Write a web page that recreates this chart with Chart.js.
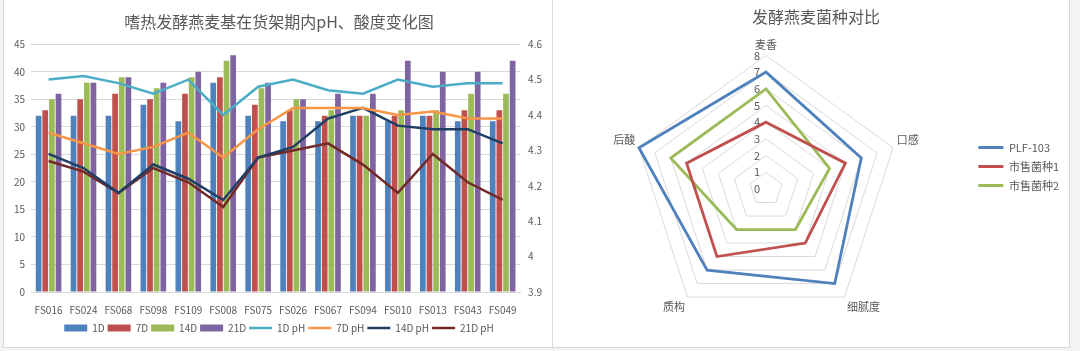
<!DOCTYPE html>
<html>
<head>
<meta charset="utf-8">
<script src="https://cdn.jsdelivr.net/npm/chart.js@4"></script>
<style>
    body { margin: 0; width: 1080px; height: 351px; overflow: hidden; position: relative; background: #f3f3f3; }
    .panel { position: absolute; top: -1px; height: 349px; background: #fff; border: 1px solid #d9d9d9; box-sizing: border-box; }
    #panel-izq { left: 3px; width: 550px; }
    #panel-der { left: 552px; width: 518px; }
    canvas { position: absolute; left: 0; top: 0; }
</style>
</head>
<body>
<div class="panel" id="panel-izq"><canvas id="chart-acidez" width="548" height="347"></canvas></div>
<div class="panel" id="panel-der"><canvas id="chart-radar" width="516" height="347"></canvas></div>
<script>
var categorias = ['FS016', 'FS024', 'FS068', 'FS098', 'FS109', 'FS008', 'FS075', 'FS026', 'FS067', 'FS094', 'FS010', 'FS013', 'FS043', 'FS049'];

// acidez (barras, eje izquierdo)
var acidez_1d = [32, 32, 32, 34, 31, 38, 32, 31, 31, 32, 31, 32, 31, 31];
var acidez_7d = [33, 35, 36, 35, 36, 39, 34, 33, 32, 32, 32, 32, 33, 33];
var acidez_14d = [35, 38, 39, 37, 39, 42, 37, 35, 33, 32, 33, 33, 36, 36];
var acidez_21d = [36, 38, 39, 38, 40, 43, 38, 35, 36, 36, 42, 40, 40, 42];

// pH (lineas, eje derecho)
var ph_1d = [4.50, 4.51, 4.49, 4.46, 4.50, 4.40, 4.48, 4.50, 4.47, 4.46, 4.50, 4.48, 4.49, 4.49];
var ph_7d = [4.35, 4.32, 4.29, 4.31, 4.35, 4.28, 4.36, 4.42, 4.42, 4.42, 4.40, 4.41, 4.39, 4.39];
var ph_14d = [4.29, 4.25, 4.18, 4.26, 4.22, 4.16, 4.28, 4.31, 4.39, 4.42, 4.37, 4.36, 4.36, 4.32];
var ph_21d = [4.27, 4.24, 4.18, 4.25, 4.21, 4.14, 4.28, 4.30, 4.32, 4.26, 4.18, 4.29, 4.21, 4.16];

var atributos = ['麦香', '口感', '细腻度', '质构', '后酸'];
var plf_103 = [7, 6, 7, 6, 8];
var comercial_1 = [4, 5, 4, 5, 5];
var comercial_2 = [6, 4, 3, 3, 6];
var radar_ticks = [0, 1, 2, 3, 4, 5, 6, 7, 8];

var fuente = '"Noto Sans CJK SC", "Noto Sans", sans-serif';
var gris = '#595959';
Chart.defaults.font.family = fuente;
Chart.defaults.color = gris;

bar_dataset = function (label, data, color) {
    return {
        type: 'bar',
        label: label,
        data: data,
        backgroundColor: color,
        yAxisID: 'y',
        order: 1,
        categoryPercentage: 0.76,
        barPercentage: 0.86
    }
}

line_dataset = function (label, data, color) {
    return {
        type: 'line',
        label: label,
        data: data,
        borderColor: color,
        backgroundColor: color,
        borderWidth: 2.5,
        pointRadius: 0,
        tension: 0,
        yAxisID: 'y1',
        order: 0
    }
}

new Chart(document.getElementById('chart-acidez'), {
    type: 'bar',
    data: {
        labels: categorias,
        datasets: [
            bar_dataset('1D', acidez_1d, '#4F81BD'),
            bar_dataset('7D', acidez_7d, '#C0504D'),
            bar_dataset('14D', acidez_14d, '#9BBB59'),
            bar_dataset('21D', acidez_21d, '#8064A2'),
            line_dataset('1D pH', ph_1d, '#4BACC6'),
            line_dataset('7D pH', ph_7d, '#F79646'),
            line_dataset('14D pH', ph_14d, '#1F3F66'),
            line_dataset('21D pH', ph_21d, '#722A28')
        ]
    },
    options: {
        responsive: false,
        animation: false,
        layout: { padding: { left: 4, right: 2, top: 0, bottom: 4 } },
        scales: {
            x: {
                grid: { display: false },
                border: { display: true, color: '#d9d9d9' },
                ticks: { font: { size: 10 }, maxRotation: 0, autoSkip: false, padding: 4 }
            },
            y: {
                position: 'left',
                min: 0,
                max: 45,
                ticks: { stepSize: 5, font: { size: 10 }, padding: 6 },
                grid: { color: '#d9d9d9', drawTicks: false },
                border: { display: false }
            },
            y1: {
                position: 'right',
                min: 3.9,
                max: 4.6,
                ticks: {
                    stepSize: 0.1,
                    font: { size: 10 },
                    padding: 8,
                    callback: function (value) {
                        return String(Number(value.toFixed(1)));
                    }
                },
                grid: { drawOnChartArea: false, drawTicks: false },
                border: { display: false }
            }
        },
        plugins: {
            title: {
                display: true,
                text: '嗜热发酵燕麦基在货架期内pH、酸度变化图',
                font: { size: 16, weight: 'normal' },
                color: gris,
                padding: { top: 12, bottom: 13 }
            },
            legend: {
                position: 'bottom',
                labels: {
                    usePointStyle: true,
                    pointStyleWidth: 23,
                    boxHeight: 7,
                    padding: 3,
                    font: { size: 10 },
                    sort: function (a, b) {
                        return a.datasetIndex - b.datasetIndex;
                    },
                    generateLabels: function (chart) {
                        var items = Chart.defaults.plugins.legend.labels.generateLabels(chart);
                        items.forEach(function (item) {
                            var ds = chart.data.datasets[item.datasetIndex];
                            if (ds.type === 'line') {
                                item.pointStyle = 'line';
                                item.strokeStyle = ds.borderColor;
                                item.lineWidth = 2.5;
                            } else {
                                item.pointStyle = 'rect';
                                item.lineWidth = 0;
                            }
                        });
                        return items;
                    }
                }
            },
            tooltip: { enabled: false }
        }
    }
});

// etiquetas del eje radial a la izquierda del eje vertical, incluido el 0
var radar_labels = {
    id: 'radar_labels',
    afterDraw: function (chart) {
        var scale = chart.scales.r;
        var ctx = chart.ctx;
        ctx.save();
        ctx.font = '11px ' + fuente;
        ctx.fillStyle = gris;
        ctx.textAlign = 'center';
        ctx.textBaseline = 'middle';
        for (var i = 0; i < radar_ticks.length; i++) {
            var d = scale.getDistanceFromCenterForValue(radar_ticks[i]);
            ctx.fillText(String(radar_ticks[i]), scale.xCenter - 9, scale.yCenter - d);
        }
        ctx.restore();
    }
};

radar_dataset = function (label, data, color) {
    return {
        label: label,
        data: data,
        borderColor: color,
        backgroundColor: color,
        borderWidth: 2.8,
        fill: false,
        pointRadius: 0
    }
}

new Chart(document.getElementById('chart-radar'), {
    type: 'radar',
    data: {
        labels: atributos,
        datasets: [
            radar_dataset('PLF-103', plf_103, '#4F81BD'),
            radar_dataset('市售菌种1', comercial_1, '#C0504D'),
            radar_dataset('市售菌种2', comercial_2, '#9BBB59')
        ]
    },
    options: {
        responsive: false,
        animation: false,
        layout: { padding: { left: 10, right: 0, top: 0, bottom: 14 } },
        scales: {
            r: {
                min: 0,
                max: 8,
                ticks: { display: false, stepSize: 1 },
                grid: { color: '#d9d9d9' },
                angleLines: { display: false },
                pointLabels: { font: { size: 11 }, color: gris, padding: 4 }
            }
        },
        plugins: {
            title: {
                display: true,
                text: '发酵燕麦菌种对比',
                font: { size: 16, weight: 'normal' },
                color: gris,
                padding: { top: 7, bottom: 4 }
            },
            legend: {
                position: 'right',
                labels: {
                    usePointStyle: true,
                    pointStyle: 'line',
                    pointStyleWidth: 25,
                    boxHeight: 7,
                    padding: 8,
                    font: { size: 11 }
                }
            },
            tooltip: { enabled: false }
        }
    },
    plugins: [radar_labels]
});
</script>
</body>
</html>
